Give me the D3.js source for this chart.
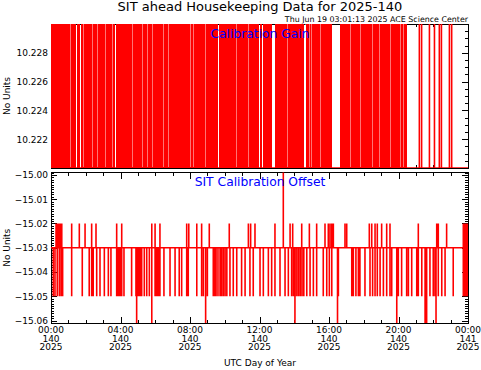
<!DOCTYPE html>
<html>
<head>
<meta charset="utf-8">
<script src="https://cdn.jsdelivr.net/npm/d3@7"></script>
<style>
  body { margin: 0; background: #fff; }
  svg { display: block; }
  text { font-family: "DejaVu Sans", sans-serif; fill: #000; }
</style>
</head>
<body>
<svg id="chart" width="481" height="370"></svg>
<script>
// time axis, hours of UTC day 140
var hourTicks = [0, 4, 8, 12, 16, 20, 24];
var hourLabels = ['00:00', '04:00', '08:00', '12:00', '16:00', '20:00', '00:00'];
var dayLabels = ['140', '140', '140', '140', '140', '140', '141'];
var yearLabels = ['2025', '2025', '2025', '2025', '2025', '2025', '2025'];

var gainTicks = [10.222, 10.224, 10.226, 10.228];
var offsetTicks = [-15.00, -15.01, -15.02, -15.03, -15.04, -15.05, -15.06];

// calibration gain flips between the low level and off-scale high
var gainLow = 10.2200, gainHigh = 10.2305;
var gainBlocks = [[0, 0.84], [0.89, 1.46], [1.51, 1.65], [1.70, 3.69], [3.74, 9.61],
  [9.66, 11.98], [12.03, 12.14], [12.19, 12.70], [12.90, 14.55], [14.70, 16.16], [16.66, 20.48]];
var gainLines = [21.2, 21.33, 21.78, 22.07, 22.35, 22.47, 22.93, 23.06];
var gainFaint = [1.09, 1.84, 2.34, 2.63, 3.11, 3.49, 4.64, 5.22, 5.51, 5.80, 6.46, 6.75, 8.0, 8.19,
  8.86, 10.65, 11.34, 13.57, 14.6, 14.85, 14.96, 15.48, 17.2, 17.8, 18.5, 18.9, 19.5, 20.1, 20.26];

// calibration offset: sits at -15.03 with short excursions
var offsetBase = -15.03;
var offsetUp = [0.29, 0.36, 0.42, 0.50, 0.58, 0.62, 1.19, 1.63, 1.96, 2.34, 2.59, 3.78, 4.07, 5.80, 5.99,
  6.27, 7.81, 7.93, 8.39, 8.67, 9.11, 10.26, 11.36, 11.49, 11.74, 12.89, 13.76, 13.91, 14.43, 14.87,
  15.29, 15.77, 15.96, 16.06, 16.16, 16.25, 16.92, 17.02, 18.32, 18.46, 18.65, 18.78, 19.03, 19.32,
  19.51, 21.14, 22.20, 22.29, 22.77, 23.73, 23.79, 23.85, 23.90, 23.96];
var offsetDown = [0.13, 0.23, 0.36, 0.48, 0.58, 0.67, 1.19, 1.80, 2.20, 2.34, 2.43, 2.63, 2.82, 3.07,
  3.30, 3.45, 3.78, 3.85, 3.92, 3.99, 4.07, 4.20, 4.64, 4.89, 4.95, 5.02, 5.09, 5.16, 5.22, 5.37, 5.51,
  5.66, 5.99, 6.07, 6.14, 6.20, 6.27, 6.50, 6.85, 7.14, 7.38, 7.52, 7.81, 7.90, 8.39, 8.67, 8.77, 9.00,
  9.34, 9.42, 9.50, 9.61, 9.73, 9.82, 9.92, 10.02, 10.12, 10.30, 10.49, 10.69, 10.97, 11.17, 11.45,
  11.64, 12.03, 12.22, 12.51, 12.70, 12.89, 13.18, 13.47, 13.66, 13.85, 13.95, 14.05, 14.15, 14.25,
  14.35, 14.45, 14.55, 14.72, 14.91, 15.10, 15.29, 15.67, 15.87, 16.02, 16.16, 16.54, 17.31, 17.40,
  17.55, 17.69, 17.78, 18.07, 18.36, 18.51, 18.65, 18.78, 18.94, 19.13, 19.32, 19.51, 19.61, 19.99,
  20.18, 20.47, 20.57, 20.76, 21.05, 21.14, 21.34, 21.62, 21.81, 22.00, 22.10, 22.29, 22.49, 22.68,
  23.15, 23.73, 23.79, 23.85, 23.90, 23.96];
var offsetDeep = [4.93, 5.80, 8.90, 14.04, 16.49, 19.90, 21.53, 21.62, 22.16];
var offsetPeak = [13.37];
var deepValue = -15.075, peakValue = -14.985;

var left = 51, right = 468;
var topPanel = {top: 24, bottom: 168};
var botPanel = {top: 172.5, bottom: 323};

var svg = d3.select('#chart');

var x = d3.scaleLinear().domain([0, 24]).range([left, right]);
var yGain = d3.scaleLinear().domain([10.220, 10.230]).range([topPanel.bottom, topPanel.top]);
var yOff = d3.scaleLinear().domain([-15.061, -14.999]).range([botPanel.bottom, botPanel.top]);

svg.append('text')
    .attr('x', 260).attr('y', 11)
    .attr('text-anchor', 'middle')
    .style('font-size', '13px')
    .text('SIT ahead Housekeeping Data for 2025-140');

svg.append('text')
    .attr('x', right).attr('y', 22)
    .attr('text-anchor', 'end')
    .style('font-size', '7.9px')
    .text('Thu Jun 19 03:01:13 2025 ACE Science Center');

function frame(p, y, majors, minorStep, id) {
  var h = p.bottom - p.top;
  var g = svg.append('g');

  g.append('clipPath').attr('id', id)
    .append('rect').attr('x', left).attr('y', p.top).attr('width', right - left).attr('height', h);

  var minorX = d3.range(0, 24.001, 1);
  g.append('g').attr('transform', 'translate(0,' + p.bottom + ')')
    .call(d3.axisBottom(x).tickValues(minorX).tickSize(-3).tickSizeOuter(0).tickFormat(''));
  g.append('g').attr('transform', 'translate(0,' + p.bottom + ')')
    .call(d3.axisBottom(x).tickValues(hourTicks).tickSize(-6).tickSizeOuter(0).tickFormat(''));
  g.append('g').attr('transform', 'translate(0,' + p.top + ')')
    .call(d3.axisTop(x).tickValues(minorX).tickSize(-3).tickSizeOuter(0).tickFormat(''));
  g.append('g').attr('transform', 'translate(0,' + p.top + ')')
    .call(d3.axisTop(x).tickValues(hourTicks).tickSize(-6).tickSizeOuter(0).tickFormat(''));

  var dom = y.domain();
  var minorY = d3.range(Math.ceil(dom[0] / minorStep - 1e-6), Math.floor(dom[1] / minorStep + 1e-6) + 1)
    .map(function(k) { return k * minorStep; });
  var majorY = d3.range(Math.ceil(dom[0] / majors - 1e-6), Math.floor(dom[1] / majors + 1e-6) + 1)
    .map(function(k) { return k * majors; });
  [[d3.axisLeft, left], [d3.axisRight, right]].forEach(function(a) {
    g.append('g').attr('transform', 'translate(' + a[1] + ',0)')
      .call(a[0](y).tickValues(minorY).tickSize(-3).tickSizeOuter(0).tickFormat(''));
    g.append('g').attr('transform', 'translate(' + a[1] + ',0)')
      .call(a[0](y).tickValues(majorY).tickSize(-6).tickSizeOuter(0).tickFormat(''));
  });

  g.selectAll('.domain').remove();
  g.selectAll('line').attr('stroke', '#000').attr('shape-rendering', 'crispEdges');

  g.append('rect')
    .attr('x', left).attr('y', p.top)
    .attr('width', right - left).attr('height', h)
    .attr('fill', 'none').attr('stroke', '#000')
    .attr('shape-rendering', 'crispEdges');

  g.append('text')
    .attr('transform', 'translate(10,' + (p.top + h / 2) + ') rotate(-90)')
    .attr('text-anchor', 'middle')
    .style('font-size', '9px')
    .text('No Units');
}

frame(topPanel, yGain, 0.002, 0.0005, 'clipTop');
frame(botPanel, yOff, 0.01, 0.001, 'clipBot');

// y labels
svg.append('g')
  .attr('transform', 'translate(' + left + ',0)')
  .call(d3.axisLeft(yGain).tickValues(gainTicks).tickSize(0).tickPadding(3).tickFormat(d3.format('.3f')))
  .call(function(g) { g.select('.domain').remove(); })
  .selectAll('text').style('font-size', '9px').style('font-family', '"DejaVu Sans", sans-serif');

svg.append('g')
  .attr('transform', 'translate(' + left + ',0)')
  .call(d3.axisLeft(yOff).tickValues(offsetTicks).tickSize(0).tickPadding(3).tickFormat(d3.format('.2f')))
  .call(function(g) { g.select('.domain').remove(); })
  .selectAll('text').style('font-size', '9px').style('font-family', '"DejaVu Sans", sans-serif');

// x labels, three rows
var xl = svg.append('g').style('font-size', '9px');
[hourLabels, dayLabels, yearLabels].forEach(function(row, r) {
  xl.selectAll(null).data(hourTicks).enter().append('text')
    .attr('x', function(d) { return x(d); })
    .attr('y', 333 + r * 8.6)
    .attr('text-anchor', 'middle')
    .text(function(d, i) { return row[i]; });
});

svg.append('text')
  .attr('x', 260).attr('y', 366)
  .attr('text-anchor', 'middle')
  .style('font-size', '9px')
  .text('UTC Day of Year');

// --- calibration gain
var gTop = svg.append('g').attr('clip-path', 'url(#clipTop)');

gTop.append('line')
  .attr('x1', x(0)).attr('x2', x(24))
  .attr('y1', yGain(gainLow)).attr('y2', yGain(gainLow))
  .attr('stroke', '#f00').attr('stroke-width', 1.5);

gTop.selectAll('rect.blk').data(gainBlocks).enter().append('rect')
  .attr('class', 'blk')
  .attr('x', function(d) { return x(d[0]); })
  .attr('width', function(d) { return x(d[1]) - x(d[0]); })
  .attr('y', yGain(gainHigh))
  .attr('height', yGain(gainLow) - yGain(gainHigh))
  .attr('fill', '#f00')
  .attr('shape-rendering', 'crispEdges');

gTop.selectAll('line.faint').data(gainFaint).enter().append('line')
  .attr('class', 'faint')
  .attr('x1', function(d) { return Math.round(x(d)) + 0.5; })
  .attr('x2', function(d) { return Math.round(x(d)) + 0.5; })
  .attr('y1', yGain(gainHigh)).attr('y2', yGain(gainLow) - 1)
  .attr('stroke', '#fff').attr('stroke-opacity', 0.45);

gTop.selectAll('line.flip').data(gainLines).enter().append('line')
  .attr('class', 'flip')
  .attr('x1', function(d) { return x(d); })
  .attr('x2', function(d) { return x(d); })
  .attr('y1', yGain(gainHigh)).attr('y2', yGain(gainLow))
  .attr('stroke', '#f00').attr('stroke-width', 1.6);

svg.append('text')
  .attr('x', 260).attr('y', 38)
  .attr('text-anchor', 'middle')
  .style('font-size', '12.3px').style('fill', '#00f')
  .text('Calibration Gain');

// --- calibration offset
var events = []
  .concat(offsetUp.map(function(h) { return [h, -15.02]; }))
  .concat(offsetDown.map(function(h) { return [h, -15.05]; }))
  .concat(offsetDeep.map(function(h) { return [h, deepValue]; }))
  .concat(offsetPeak.map(function(h) { return [h, peakValue]; }))
  .sort(function(a, b) { return a[0] - b[0]; });

var series = [[0, offsetBase]];
events.forEach(function(e) {
  series.push([e[0], offsetBase], [e[0], e[1]], [e[0], offsetBase]);
});
series.push([24, offsetBase]);

var line = d3.line()
  .x(function(d) { return x(d[0]); })
  .y(function(d) { return yOff(d[1]); });

svg.append('g').attr('clip-path', 'url(#clipBot)')
  .append('path')
  .datum(series)
  .attr('d', line)
  .attr('fill', 'none')
  .attr('stroke', '#f00')
  .attr('stroke-width', 1.6)
  .attr('stroke-linejoin', 'miter')
  .attr('stroke-linecap', 'butt');

svg.append('text')
  .attr('x', 260).attr('y', 186)
  .attr('text-anchor', 'middle')
  .style('font-size', '12.3px').style('fill', '#00f')
  .text('SIT Calibration Offset');
</script>
</body>
</html>
